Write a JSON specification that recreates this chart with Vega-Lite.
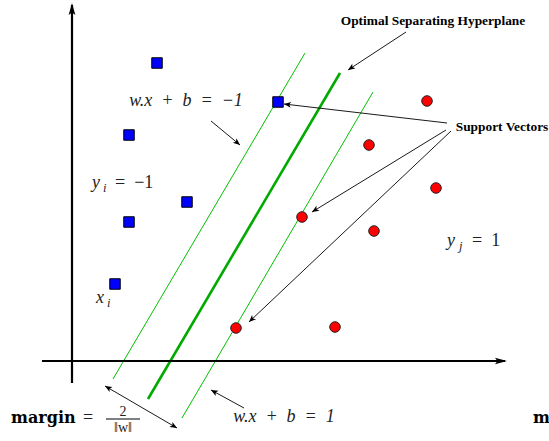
{
  "$schema": "https://vega.github.io/schema/vega-lite/v6.json",
  "width": 549,
  "height": 441,
  "padding": 0,
  "autosize": {"type": "none"},
  "background": "white",
  "config": {"view": {"stroke": null}},
  "datasets": {
    "axes": [
      {"x": -3.0, "y": 0, "x2": 43.3, "y2": 0},
      {"x": 0, "y": -2.2, "x2": 0, "y2": 35.6}
    ],
    "axisTips": [
      {"x": 43.5, "y": 0, "ang": 0},
      {"x": 0, "y": 35.8, "ang": -90}
    ],
    "thin": [
      {"x": 4.1, "y": -1.8, "x2": 23.3, "y2": 30.8},
      {"x": 11.0, "y": -5.7, "x2": 30.1, "y2": 26.9}
    ],
    "thick": [
      {"x": 7.6, "y": -3.8, "x2": 26.8, "y2": 28.8}
    ],
    "arrows": [
      {"x": 33.4, "y": 32.9, "x2": 27.6, "y2": 29.1, "both": false},
      {"x": 37.5, "y": 23.8, "x2": 21.2, "y2": 25.7, "both": false},
      {"x": 37.4, "y": 23.1, "x2": 24.0, "y2": 14.9, "both": false},
      {"x": 37.9, "y": 23.0, "x2": 17.7, "y2": 3.9, "both": false},
      {"x": 13.9, "y": 24.0, "x2": 16.8, "y2": 21.6, "both": false},
      {"x": 17.2, "y": -4.7, "x2": 13.9, "y2": -2.9, "both": false},
      {"x": 3.3, "y": -2.5, "x2": 10.5, "y2": -6.7, "both": true}
    ],
    "blue": [
      {"x": 8.5, "y": 29.8},
      {"x": 20.6, "y": 25.9},
      {"x": 5.7, "y": 22.6},
      {"x": 11.5, "y": 15.9},
      {"x": 5.7, "y": 13.9},
      {"x": 4.3, "y": 7.7}
    ],
    "red": [
      {"x": 35.5, "y": 26.0},
      {"x": 29.7, "y": 21.6},
      {"x": 36.4, "y": 17.3},
      {"x": 23.0, "y": 14.4},
      {"x": 30.2, "y": 13.0},
      {"x": 16.4, "y": 3.3},
      {"x": 26.3, "y": 3.4}
    ],
    "boldLabels": [
      {"x": 36.1, "y": 33.6, "t": "Optimal Separating Hyperplane"},
      {"x": 43.0, "y": 23.0, "t": "Support Vectors"}
    ],
    "equations": [
      {"x": 11.4, "y": 25.5, "t": "w.x\u2002+\u2002b\u2002=\u2002−1"},
      {"x": 21.2, "y": -6.1, "t": "w.x\u2002+\u2002b\u2002=\u20021"}
    ],
    "mathVars": [
      {"x": 2.0, "y": 17.3, "t": "y"},
      {"x": 2.4, "y": 5.8, "t": "x"},
      {"x": 37.5, "y": 11.5, "t": "y"}
    ],
    "mathRoman": [
      {"x": 4.3, "y": 17.3, "t": "=\u2002−1"},
      {"x": 40.0, "y": 11.5, "t": "=\u20021"},
      {"x": 1.1, "y": -6.2, "t": "="}
    ],
    "subs": [
      {"x": 3.1, "y": 16.9, "t": "i"},
      {"x": 3.5, "y": 5.4, "t": "i"},
      {"x": 38.7, "y": 11.1, "t": "j"}
    ],
    "boldMath": [
      {"x": -6.1, "y": -6.2, "t": "margin"},
      {"x": 46.1, "y": -6.2, "t": "m"}
    ],
    "fraction": [
      {"x": 5.1, "y": -5.5, "t": "2"},
      {"x": 5.1, "y": -7.1, "t": "‖w‖"}
    ],
    "fracBar": [
      {"x": 3.4, "y": -5.8, "x2": 6.8, "y2": -5.8}
    ]
  },
  "encoding": {
    "x": {"field": "x", "type": "quantitative", "scale": {"domain": [-7.2, 47.7], "nice": false, "zero": false}, "axis": null},
    "y": {"field": "y", "type": "quantitative", "scale": {"domain": [-8.0, 36.1], "nice": false, "zero": false}, "axis": null}
  },
  "layer": [
    {
      "data": {"name": "thin"},
      "mark": {"type": "rule", "color": "#00c000", "strokeWidth": 1},
      "encoding": {"x2": {"field": "x2"}, "y2": {"field": "y2"}}
    },
    {
      "data": {"name": "thick"},
      "mark": {"type": "rule", "color": "#00aa00", "strokeWidth": 2.6},
      "encoding": {"x2": {"field": "x2"}, "y2": {"field": "y2"}}
    },
    {
      "data": {"name": "axes"},
      "mark": {"type": "rule", "color": "black", "strokeWidth": 2.2},
      "encoding": {"x2": {"field": "x2"}, "y2": {"field": "y2"}}
    },
    {
      "data": {"name": "axisTips"},
      "mark": {"type": "point", "shape": "M0,0 L-1,-0.28 L-0.8,0 L-1,0.28 Z", "filled": true, "color": "black", "opacity": 1, "size": 576},
      "encoding": {"angle": {"field": "ang", "type": "quantitative", "scale": null}}
    },
    {
      "data": {"name": "arrows"},
      "mark": {"type": "rule", "color": "black", "strokeWidth": 0.9},
      "encoding": {"x2": {"field": "x2"}, "y2": {"field": "y2"}}
    },
    {
      "data": {"name": "arrows"},
      "transform": [{"calculate": "atan2(-(datum.y2 - datum.y), datum.x2 - datum.x) * 180 / PI", "as": "ang"}],
      "mark": {"type": "point", "shape": "M0,0 L-1,-0.42 L-0.75,0 L-1,0.42 Z", "filled": true, "color": "black", "opacity": 1, "size": 196},
      "encoding": {
        "x": {"field": "x2", "type": "quantitative", "scale": {"domain": [-7.2, 47.7], "nice": false, "zero": false}, "axis": null},
        "y": {"field": "y2", "type": "quantitative", "scale": {"domain": [-8.0, 36.1], "nice": false, "zero": false}, "axis": null},
        "angle": {"field": "ang", "type": "quantitative", "scale": null}
      }
    },
    {
      "data": {"name": "arrows"},
      "transform": [
        {"filter": "datum.both"},
        {"calculate": "atan2(-(datum.y2 - datum.y), datum.x2 - datum.x) * 180 / PI + 180", "as": "ang"}
      ],
      "mark": {"type": "point", "shape": "M0,0 L-1,-0.42 L-0.75,0 L-1,0.42 Z", "filled": true, "color": "black", "opacity": 1, "size": 196},
      "encoding": {"angle": {"field": "ang", "type": "quantitative", "scale": null}}
    },
    {
      "data": {"name": "blue"},
      "mark": {"type": "point", "shape": "square", "filled": true, "fill": "#0000ff", "stroke": "black", "strokeWidth": 1, "opacity": 1, "size": 110}
    },
    {
      "data": {"name": "red"},
      "mark": {"type": "point", "shape": "circle", "filled": true, "fill": "#ff0000", "stroke": "#222", "strokeWidth": 1, "opacity": 1, "size": 112}
    },
    {
      "data": {"name": "boldLabels"},
      "mark": {"type": "text", "font": "Liberation Serif", "fontWeight": "bold", "fontSize": 13.4, "align": "center", "baseline": "alphabetic", "color": "black"},
      "encoding": {"text": {"field": "t"}}
    },
    {
      "data": {"name": "equations"},
      "mark": {"type": "text", "font": "Liberation Serif", "fontStyle": "italic", "fontSize": 18, "align": "center", "baseline": "alphabetic", "color": "#222"},
      "encoding": {"text": {"field": "t"}}
    },
    {
      "data": {"name": "mathVars"},
      "mark": {"type": "text", "font": "Liberation Serif", "fontStyle": "italic", "fontSize": 18, "align": "left", "baseline": "alphabetic", "color": "#222"},
      "encoding": {"text": {"field": "t"}}
    },
    {
      "data": {"name": "mathRoman"},
      "mark": {"type": "text", "font": "Liberation Serif", "fontSize": 18, "align": "left", "baseline": "alphabetic", "color": "#222"},
      "encoding": {"text": {"field": "t"}}
    },
    {
      "data": {"name": "subs"},
      "mark": {"type": "text", "font": "Liberation Serif", "fontStyle": "italic", "fontSize": 12.5, "align": "left", "baseline": "alphabetic", "color": "#222"},
      "encoding": {"text": {"field": "t"}}
    },
    {
      "data": {"name": "boldMath"},
      "mark": {"type": "text", "font": "DejaVu Serif", "fontWeight": "bold", "fontSize": 16, "align": "left", "baseline": "alphabetic", "color": "black"},
      "encoding": {"text": {"field": "t"}}
    },
    {
      "data": {"name": "fraction"},
      "mark": {"type": "text", "font": "Liberation Serif", "fontSize": 14, "align": "center", "baseline": "alphabetic", "color": "#222"},
      "encoding": {"text": {"field": "t"}}
    },
    {
      "data": {"name": "fracBar"},
      "mark": {"type": "rule", "color": "black", "strokeWidth": 1.2},
      "encoding": {"x2": {"field": "x2"}, "y2": {"field": "y2"}}
    }
  ]
}
